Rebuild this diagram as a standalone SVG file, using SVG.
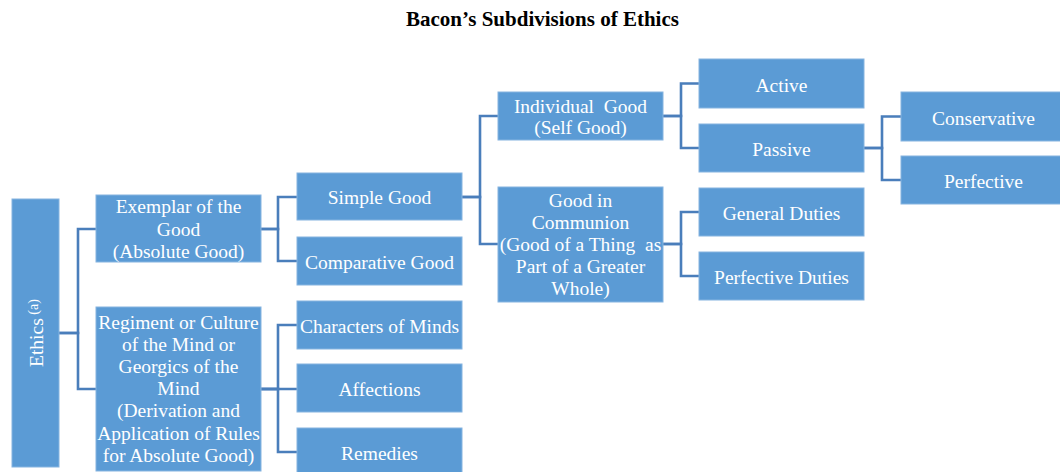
<svg xmlns="http://www.w3.org/2000/svg" width="1060" height="472" viewBox="0 0 1060 472">
<style>
.box{fill:#5B9BD5;stroke:#86B4E0;stroke-width:1}
.t{font-family:"Liberation Serif","Times New Roman",serif;font-size:19.5px;fill:#ffffff;text-anchor:middle}
.con{fill:none;stroke:#4A7EBB;stroke-width:2.6}
.title{font-family:"Liberation Serif","Times New Roman",serif;font-size:21px;font-weight:bold;fill:#000;text-anchor:middle}
</style>
<rect width="1060" height="472" fill="#ffffff"/>
<text class="title" x="542.5" y="26">Bacon’s Subdivisions of Ethics</text>

<g id="connectors">
<path class="con" d="M59,333 H78 V229 H96"/>
<path class="con" d="M59,333 H78 V389 H96"/>
<path class="con" d="M261,229 H278 V197 H297"/>
<path class="con" d="M261,229 H278 V261 H297"/>
<path class="con" d="M261,389 H278 V325 H297"/>
<path class="con" d="M261,389 H297"/>
<path class="con" d="M261,389 H278 V452 H297"/>
<path class="con" d="M462,197 H480 V116 H498"/>
<path class="con" d="M462,197 H480 V244 H498"/>
<path class="con" d="M663,116 H681 V83.5 H699"/>
<path class="con" d="M663,116 H681 V148 H699"/>
<path class="con" d="M663,244 H681 V212 H699"/>
<path class="con" d="M663,244 H681 V276 H699"/>
<path class="con" d="M864,148 H882 V116.5 H901"/>
<path class="con" d="M864,148 H882 V180 H901"/>
</g>

<g id="ethics">
<rect class="box" x="12" y="199" width="47" height="268"/>
<text class="t" style="text-anchor:start" transform="translate(42.5,367) rotate(-90)">Ethics<tspan font-size="14" dy="-5"> (a)</tspan></text>
</g>

<g id="exemplar">
<rect class="box" x="96" y="195" width="165" height="67"/>
<text class="t" x="178.5" y="213">Exemplar of the</text>
<text class="t" x="178.5" y="235.5">Good</text>
<text class="t" x="178.5" y="258">(Absolute Good)</text>
</g>

<g id="regiment">
<rect class="box" x="96" y="307" width="165" height="164"/>
<text class="t" x="178.5" y="329">Regiment or Culture</text>
<text class="t" x="178.5" y="351">of the Mind or</text>
<text class="t" x="178.5" y="373">Georgics of the</text>
<text class="t" x="178.5" y="395">Mind</text>
<text class="t" x="178.5" y="417">(Derivation and</text>
<text class="t" x="178.5" y="440">Application of Rules</text>
<text class="t" x="178.5" y="462">for Absolute Good)</text>
</g>

<g id="simple-good">
<rect class="box" x="297" y="173" width="165" height="47"/>
<text class="t" x="379.5" y="204">Simple Good</text>
</g>

<g id="comparative-good">
<rect class="box" x="297" y="237" width="165" height="48"/>
<text class="t" x="379.5" y="268.5">Comparative Good</text>
</g>

<g id="characters-of-minds">
<rect class="box" x="297" y="301" width="165" height="48"/>
<text class="t" x="379.5" y="332.5">Characters of Minds</text>
</g>

<g id="affections">
<rect class="box" x="297" y="364" width="165" height="48"/>
<text class="t" x="379.5" y="396">Affections</text>
</g>

<g id="remedies">
<rect class="box" x="297" y="428" width="165" height="48"/>
<text class="t" x="379.5" y="459.5">Remedies</text>
</g>

<g id="individual-good">
<rect class="box" x="498" y="92" width="165" height="48"/>
<text class="t" x="580.5" y="112.5">Individual&#160; Good</text>
<text class="t" x="580.5" y="134">(Self Good)</text>
</g>

<g id="good-in-communion">
<rect class="box" x="498" y="187" width="165" height="115"/>
<text class="t" x="580.5" y="206.5">Good in</text>
<text class="t" x="580.5" y="228.5">Communion</text>
<text class="t" x="580.5" y="250.5">(Good of a Thing&#160; as</text>
<text class="t" x="580.5" y="273">Part of a Greater</text>
<text class="t" x="580.5" y="295">Whole)</text>
</g>

<g id="active">
<rect class="box" x="699" y="59" width="165" height="49"/>
<text class="t" x="781.5" y="91.5">Active</text>
</g>

<g id="passive">
<rect class="box" x="699" y="124" width="165" height="48"/>
<text class="t" x="781.5" y="156">Passive</text>
</g>

<g id="general-duties">
<rect class="box" x="699" y="188" width="165" height="48"/>
<text class="t" x="781.5" y="220">General Duties</text>
</g>

<g id="perfective-duties">
<rect class="box" x="699" y="252" width="165" height="48"/>
<text class="t" x="781.5" y="284">Perfective Duties</text>
</g>

<g id="conservative">
<rect class="box" x="901" y="92" width="165" height="49"/>
<text class="t" x="983.5" y="124.5">Conservative</text>
</g>

<g id="perfective">
<rect class="box" x="901" y="156" width="165" height="48"/>
<text class="t" x="983.5" y="188">Perfective</text>
</g>
</svg>
